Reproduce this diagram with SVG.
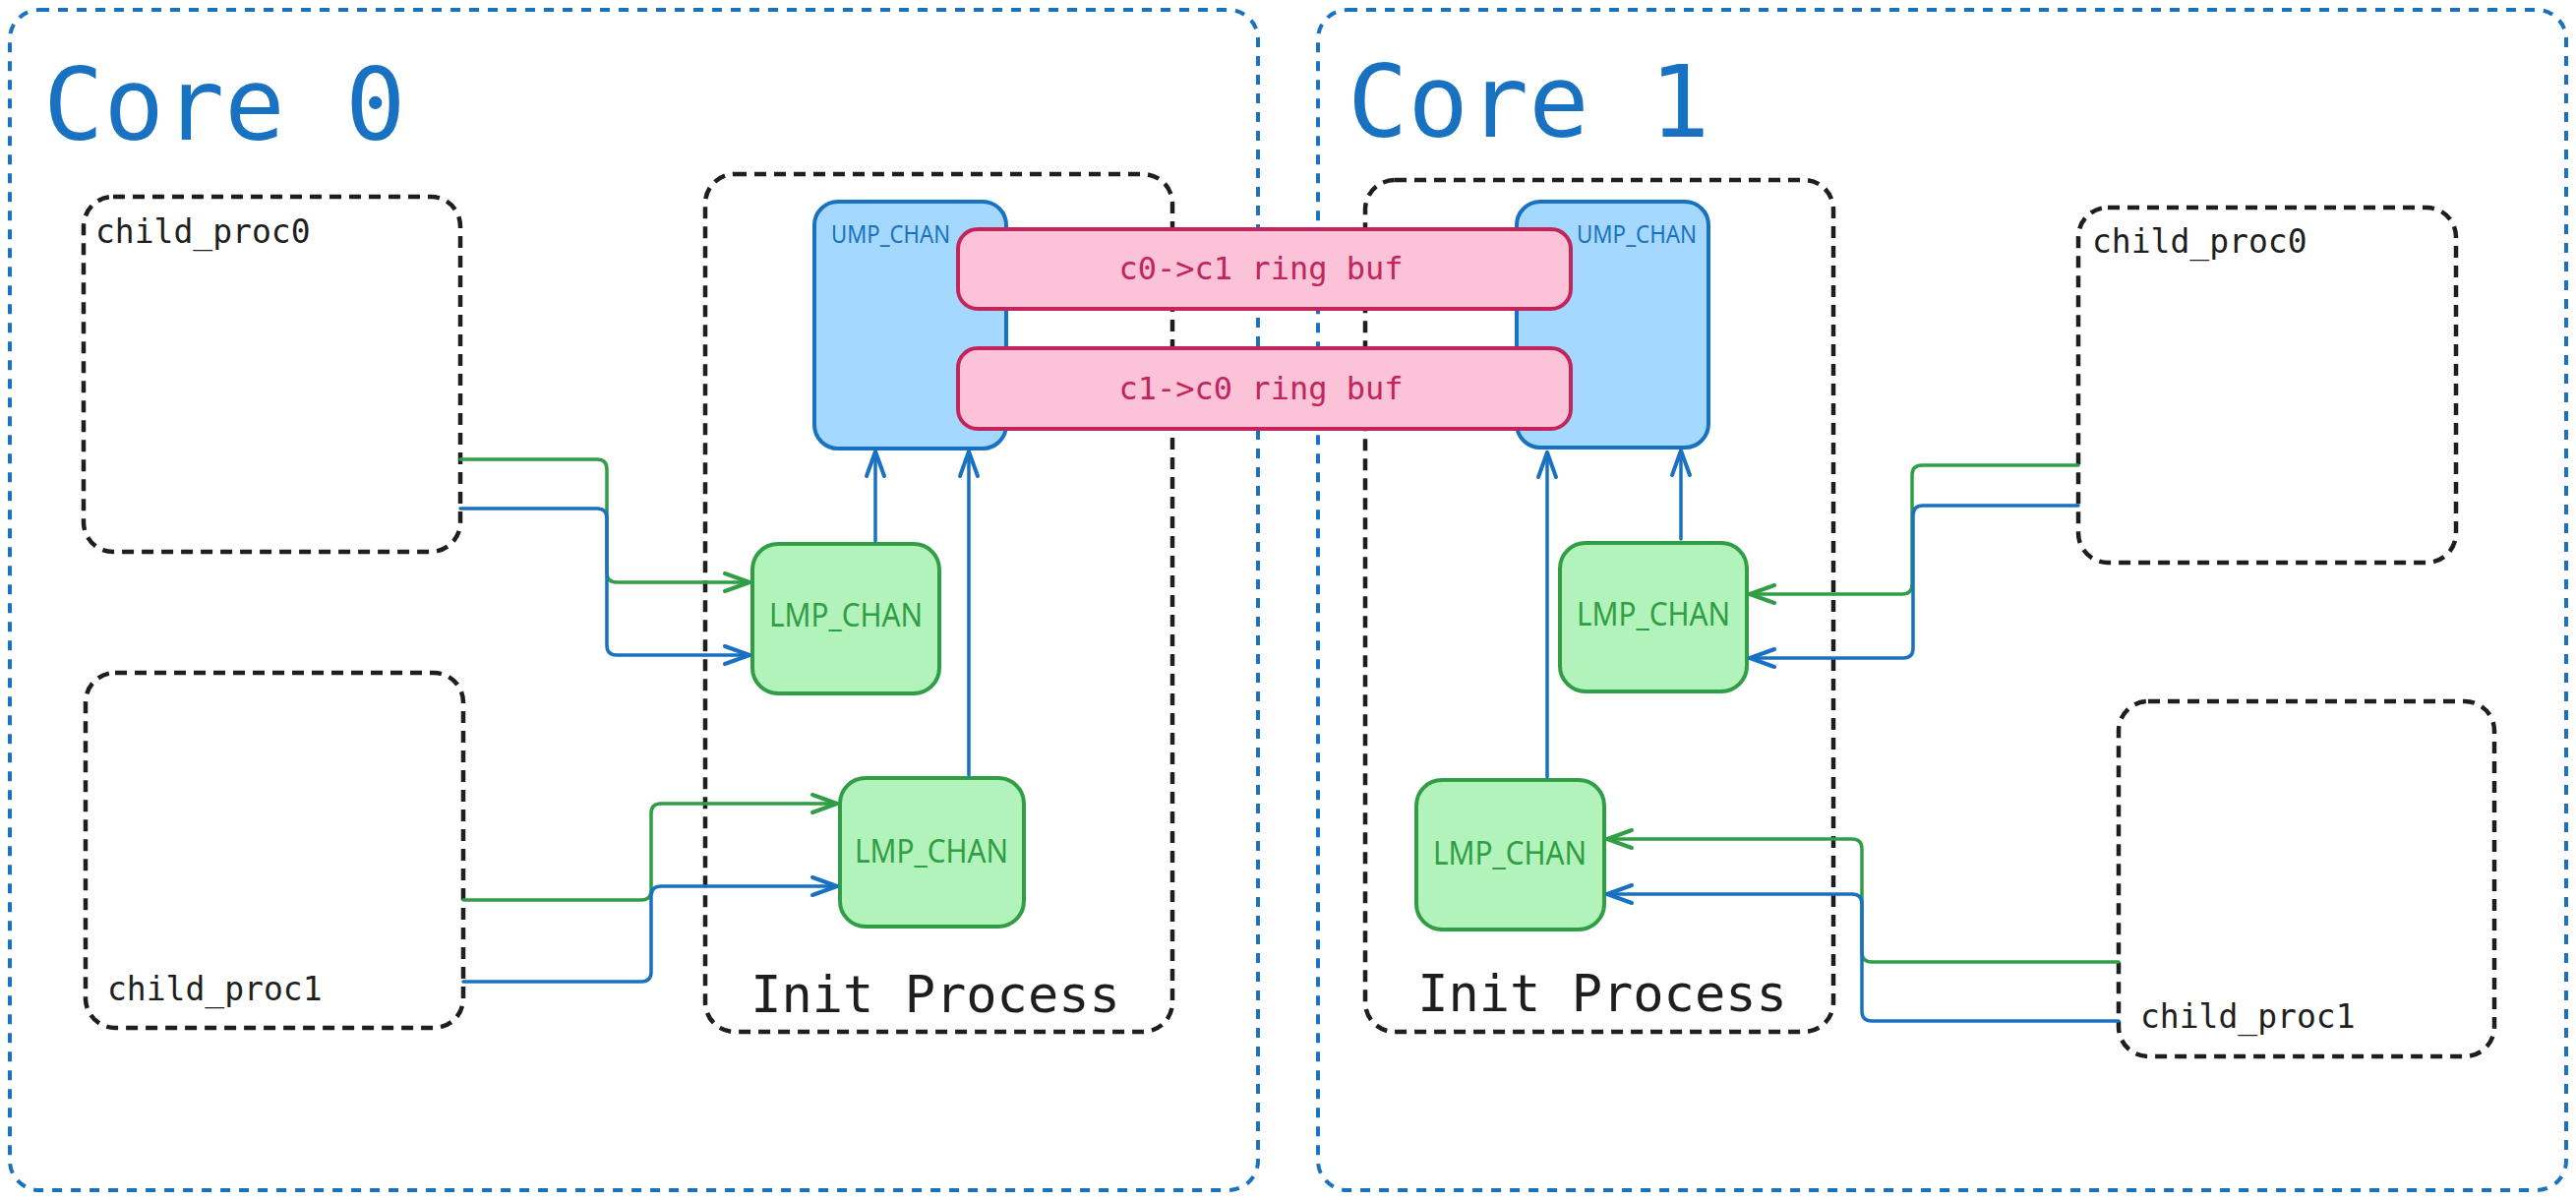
<svg xmlns="http://www.w3.org/2000/svg" width="2619" height="1220" viewBox="0 0 2619 1220">
<style>
.core{fill:none;stroke:#1971c2;stroke-width:4;stroke-dasharray:10 9}
.proc{fill:none;stroke:#1e1e1e;stroke-width:4.5;stroke-dasharray:12 8}
.ump{fill:#a5d8ff;stroke:#1971c2;stroke-width:4}
.lmp{fill:#b2f2bb;stroke:#2f9e44;stroke-width:4}
.ring{fill:#fcc2d7;stroke:#c2255c;stroke-width:4}
.mono{font-family:"DejaVu Sans Mono","Liberation Mono",monospace}
.hand{font-family:"Noto Sans","Liberation Sans",sans-serif}
.title{font-size:102px;fill:#1971c2}
.plabel{font-size:33px;fill:#1e1e1e}
.ilabel{font-size:52px;fill:#1e1e1e}
.rlabel{font-size:32px;fill:#c2255c}
.ulabel{font-size:26px;fill:#1971c2}
.llabel{font-size:33px;fill:#2f9e44}
.g{fill:none;stroke:#2f9e44;stroke-width:3.5;stroke-linecap:round;stroke-linejoin:round}
.b{fill:none;stroke:#1971c2;stroke-width:3.5;stroke-linecap:round;stroke-linejoin:round}
</style>
<defs>
<marker id="ag" markerUnits="userSpaceOnUse" viewBox="-30 -15 40 30" markerWidth="40" markerHeight="30" refX="0" refY="0" orient="auto">
<path d="M-25,-9 L0,0 L-25,9" fill="none" stroke="#2f9e44" stroke-width="4" stroke-linecap="round" stroke-linejoin="round"/>
</marker>
<marker id="ab" markerUnits="userSpaceOnUse" viewBox="-30 -15 40 30" markerWidth="40" markerHeight="30" refX="0" refY="0" orient="auto">
<path d="M-25,-9 L0,0 L-25,9" fill="none" stroke="#1971c2" stroke-width="4" stroke-linecap="round" stroke-linejoin="round"/>
</marker>
</defs>
<rect width="2619" height="1220" fill="#ffffff"/>

<g id="core0">
<rect class="core" x="10" y="10" width="1269" height="1200" rx="30"/>
<text class="mono title" x="44" y="142">Core 0</text>
</g>
<g id="core1">
<rect class="core" x="1340" y="10" width="1269" height="1200" rx="30"/>
<text class="mono title" x="1370" y="139">Core 1</text>
</g>

<g id="core0-child_proc0">
<rect class="proc" x="85" y="200" width="383" height="361" rx="30"/>
<text class="mono plabel" x="97" y="247">child_proc0</text>
</g>
<g id="core0-child_proc1">
<rect class="proc" x="87" y="684" width="384" height="361" rx="30"/>
<text class="mono plabel" x="109" y="1017">child_proc1</text>
</g>
<g id="core0-init">
<rect class="proc" x="717" y="177" width="475" height="872" rx="30"/>
<text class="mono ilabel" x="951" y="1029" text-anchor="middle">Init Process</text>
</g>
<g id="core1-child_proc0">
<rect class="proc" x="2113" y="211" width="384" height="361" rx="30"/>
<text class="mono plabel" x="2127" y="257">child_proc0</text>
</g>
<g id="core1-child_proc1">
<rect class="proc" x="2154" y="713" width="382" height="361" rx="30"/>
<text class="mono plabel" x="2176" y="1045">child_proc1</text>
</g>
<g id="core1-init">
<rect class="proc" x="1388" y="183" width="476" height="866" rx="30"/>
<text class="mono ilabel" x="1629" y="1028" text-anchor="middle">Init Process</text>
</g>

<g id="core0-ump">
<rect class="ump" x="828" y="205" width="195" height="251" rx="24"/>
<text class="hand ulabel" x="845" y="247" textLength="121" lengthAdjust="spacingAndGlyphs">UMP_CHAN</text>
</g>
<g id="core1-ump">
<rect class="ump" x="1542" y="205" width="195" height="250" rx="24"/>
<text class="hand ulabel" x="1603" y="247" textLength="122" lengthAdjust="spacingAndGlyphs">UMP_CHAN</text>
</g>

<g id="core0-lmp0">
<rect class="lmp" x="765" y="553" width="190" height="152" rx="26"/>
<text class="hand llabel" x="860" y="637" text-anchor="middle" textLength="156" lengthAdjust="spacingAndGlyphs">LMP_CHAN</text>
</g>
<g id="core0-lmp1">
<rect class="lmp" x="854" y="791" width="187" height="151" rx="26"/>
<text class="hand llabel" x="947" y="877" text-anchor="middle" textLength="156" lengthAdjust="spacingAndGlyphs">LMP_CHAN</text>
</g>
<g id="core1-lmp0">
<rect class="lmp" x="1586" y="552" width="190" height="151" rx="26"/>
<text class="hand llabel" x="1681" y="636" text-anchor="middle" textLength="156" lengthAdjust="spacingAndGlyphs">LMP_CHAN</text>
</g>
<g id="core1-lmp1">
<rect class="lmp" x="1440" y="793" width="191" height="152" rx="26"/>
<text class="hand llabel" x="1535" y="879" text-anchor="middle" textLength="156" lengthAdjust="spacingAndGlyphs">LMP_CHAN</text>
</g>

<g id="connectors">
<path class="g" marker-end="url(#ag)" d="M468,467 H607 Q617,467 617,477 V582 Q617,592 627,592 H762"/>
<path class="b" marker-end="url(#ab)" d="M468,517 H607 Q617,517 617,527 V656 Q617,666 627,666 H762"/>
<path class="g" marker-end="url(#ag)" d="M471,915 H652 Q662,915 662,905 V827 Q662,817 672,817 H851"/>
<path class="b" marker-end="url(#ab)" d="M471,998 H652 Q662,998 662,988 V911 Q662,901 672,901 H851"/>
<path class="b" marker-end="url(#ab)" d="M890,550 V459"/>
<path class="b" marker-end="url(#ab)" d="M985,788 V459"/>
<path class="g" marker-end="url(#ag)" d="M2113,473 H1954 Q1944,473 1944,483 V594 Q1944,604 1934,604 H1779"/>
<path class="b" marker-end="url(#ab)" d="M2113,514 H1955 Q1945,514 1945,524 V659 Q1945,669 1935,669 H1779"/>
<path class="g" marker-end="url(#ag)" d="M2154,978 H1903 Q1893,978 1893,968 V863 Q1893,853 1883,853 H1634"/>
<path class="b" marker-end="url(#ab)" d="M2154,1038 H1903 Q1893,1038 1893,1028 V919 Q1893,909 1883,909 H1634"/>
<path class="b" marker-end="url(#ab)" d="M1709,548 V458"/>
<path class="b" marker-end="url(#ab)" d="M1573,790 V460"/>
</g>

<g id="ring0">
<rect class="ring" x="974" y="233" width="623" height="81" rx="20"/>
<text class="mono rlabel" x="1282" y="284" text-anchor="middle">c0-&gt;c1 ring buf</text>
</g>
<g id="ring1">
<rect class="ring" x="974" y="354" width="623" height="82" rx="20"/>
<text class="mono rlabel" x="1282" y="406" text-anchor="middle">c1-&gt;c0 ring buf</text>
</g>
</svg>
